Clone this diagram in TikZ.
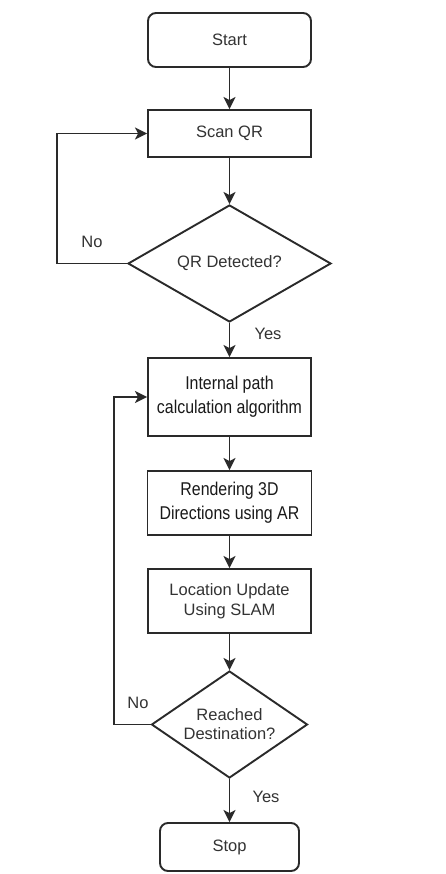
\documentclass[tikz,border=0pt]{standalone}
\usepackage{fontspec}
\setmainfont{Liberation Sans}
\newfontfamily\condfont[FakeStretch=0.86]{Liberation Sans}
\usetikzlibrary{shapes.geometric,arrows.meta}
\definecolor{ln}{HTML}{2A2A2A}
\definecolor{tx}{HTML}{333333}
\begin{document}
\begin{tikzpicture}[x=1pt,y=-1pt,
  base/.style={draw=ln,line width=1.9pt,text=tx,align=center,inner sep=0pt,font=\fontsize{16.5}{20}\selectfont},
  term/.style={base,rectangle,rounded corners=8pt},
  proc/.style={base,rectangle},
  cproc/.style={base,rectangle,text=black!90,font=\condfont\fontsize{18.5}{24}\selectfont},
  dec/.style={base,diamond},
  lbl/.style={text=tx,font=\fontsize{16.5}{20}\selectfont,inner sep=0pt},
  arr/.style={draw=ln,line width=1.9pt,-{Stealth[length=12pt,width=12pt,inset=3pt]}}]
\useasboundingbox[fill=white] (0,0) rectangle (446,874);
\node[term,minimum width=163pt,minimum height=54pt] (start) at (229.5,40) {Start};
\node[proc,minimum width=163pt,minimum height=47pt] (scan) at (229.5,133.5) {Scan QR};
\node[dec,aspect=1.735,minimum width=203pt,minimum height=117pt] (d1) at (229.5,263.5) {QR Detected?};
\node[cproc,minimum width=163pt,minimum height=78pt] (calc) at (229.5,397) {Internal path\\calculation algorithm};
\node[cproc,minimum width=164pt,minimum height=64pt] (rend) at (229.5,503) {Rendering 3D\\Directions using AR};
\node[proc,minimum width=163pt,minimum height=64pt,font=\fontsize{16.5}{20}\selectfont] (loc) at (229.5,601) {Location Update\\Using SLAM};
\node[dec,aspect=1.46,minimum width=156pt,minimum height=107pt,font=\fontsize{16.5}{19}\selectfont] (d2) at (229.5,724.5) {Reached\\Destination?};
\node[term,minimum width=139pt,minimum height=48pt] (stop) at (229.5,847) {Stop};
\coordinate (l1) at (57,263.5);
\coordinate (l2) at (114,724.5);
\draw[arr] (start) -- (scan);
\draw[arr] (scan) -- (d1);
\draw[arr] (d1) -- (calc);
\draw[arr] (calc) -- (rend);
\draw[arr] (rend) -- (loc);
\draw[arr] (loc) -- (d2);
\draw[arr] (d2) -- (stop);
\draw[arr] (d1.west) -- (l1) |- (scan.west);
\draw[arr] (d2.west) -- (l2) |- (calc.west);
\node[lbl] (no1) at (92,242) {No};
\node[lbl] (yes1) at (268,334) {Yes};
\node[lbl] (no2) at (138,703) {No};
\node[lbl] (yes2) at (266,797) {Yes};
\end{tikzpicture}
\end{document}
